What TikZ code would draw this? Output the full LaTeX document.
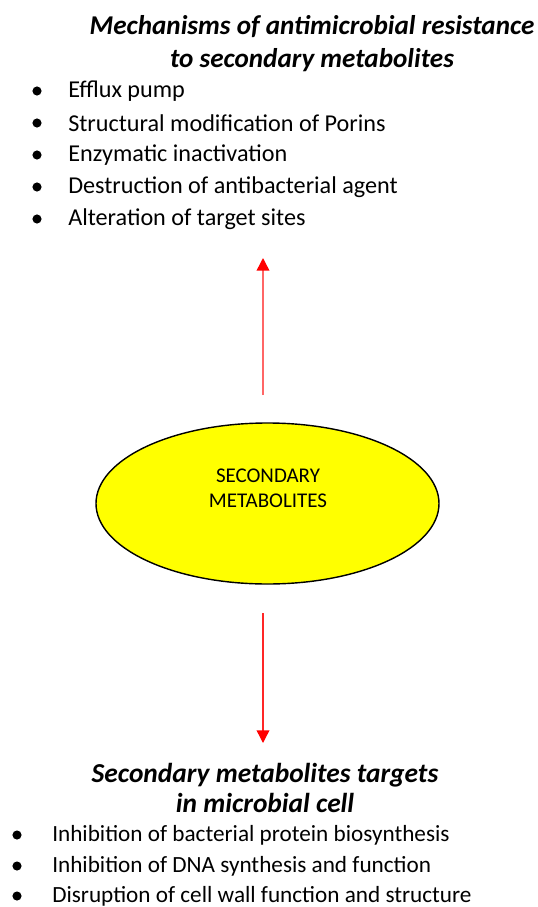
\documentclass[tikz,border=0pt]{standalone}
\usepackage{fontspec}
\setmainfont{Carlito}
\usetikzlibrary{shapes.geometric, arrows.meta, positioning}
\definecolor{metyellow}{HTML}{FFFF00}
\definecolor{arrred}{HTML}{FF0000}
\tikzset{
    heading/.style={align=center, font=\fontsize{19.3}{23.5}\selectfont\bfseries\itshape, inner sep=0pt},
    itemtop/.style={anchor=west, font=\fontsize{17.2}{20}\selectfont, inner sep=0pt},
    itembot/.style={anchor=west, font=\fontsize{16.5}{19}\selectfont, inner sep=0pt},
    dot/.style={circle, fill=black, minimum size=6.5pt, inner sep=0pt},
    metab/.style={ellipse, draw, line width=1pt, fill=metyellow, minimum width=343*0.025cm, minimum height=161*0.025cm},
    arr/.style={arrred!85, -{Triangle[length=9pt, width=9pt, color=arrred]}, line width=1pt},
}

\begin{document}
\begin{tikzpicture}[x=0.025cm, y=-0.025cm]
\useasboundingbox (0,0) rectangle (538,907);

% ── Resistance (top) ──
\node[heading] (restitle) at (312,44) {Mechanisms of antimicrobial resistance\\to secondary metabolites};
\node[dot] (rb1) at (37,91) {}; \node[itemtop] (r1) at (68,91) {Efflux pump};
\node[dot] (rb2) at (37,123) {}; \node[itemtop] (r2) at (68,123) {Structural modification of Porins};
\node[dot] (rb3) at (37,155) {}; \node[itemtop] (r3) at (68,155) {Enzymatic inactivation};
\node[dot] (rb4) at (37,187) {}; \node[itemtop] (r4) at (68,187) {Destruction of antibacterial agent};
\node[dot] (rb5) at (37,219) {}; \node[itemtop] (r5) at (68,219) {Alteration of target sites};

% ── Centre ellipse ──
\node[metab] (sm) at (267.5,503.5) {};
\node[align=center, font=\fontsize{14.9}{17.8}\selectfont, inner sep=0pt] (smtext) at (268,488) {SECONDARY\\METABOLITES};

% ── Targets (bottom) ──
\node[heading, font=\fontsize{19.5}{22}\selectfont\bfseries\itshape] (targtitle) at (265,788) {Secondary metabolites targets\\in microbial cell};
\node[dot] (tb1) at (17,835) {}; \node[itembot] (t1) at (52,835) {Inhibition of bacterial protein biosynthesis};
\node[dot] (tb2) at (17,866) {}; \node[itembot] (t2) at (52,866) {Inhibition of DNA synthesis and function};
\node[dot] (tb3) at (17,896) {}; \node[itembot] (t3) at (52,896) {Disruption of cell wall function and structure};

% ── Arrows ──
\coordinate (upbase) at (263,395);
\coordinate (uptip) at (263,258);
\coordinate (dnbase) at (263,613);
\coordinate (dntip) at (263,743);
\draw[arr, arrred!60] (upbase) -- (uptip);
\draw[arr] (dnbase) -- (dntip);

\end{tikzpicture}
\end{document}
